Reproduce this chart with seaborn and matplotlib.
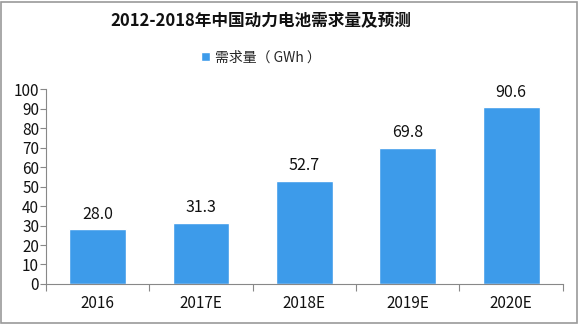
import matplotlib
matplotlib.use("Agg")
import matplotlib.pyplot as plt
from matplotlib.ticker import FixedLocator
import seaborn as sns
import pandas as pd

years = ["2016", "2017E", "2018E", "2019E", "2020E"]
demand = [28.0, 31.3, 52.7, 69.8, 90.6]
series_name = "需求量（ GWh ）"
title = "2012-2018年中国动力电池需求量及预测"

sns.set_theme(style="white")
plt.rcParams["font.family"] = ["Noto Sans CJK SC", "DejaVu Sans"]

df = pd.DataFrame({"year": years, "demand": demand})

fig = plt.figure(figsize=(5.79, 3.24), dpi=100)
ax = fig.add_axes([0.0795, 0.1235, 0.8925, 0.6015])

bar_color = "#3D9BEA"
sns.barplot(data=df, x="year", y="demand", color=bar_color, width=0.55,
            saturation=1, ax=ax, label=series_name)

for i, v in enumerate(demand):
    ax.text(i, v + 3.5, f"{v:.1f}", ha="center", va="bottom", fontsize=11.5, color="#111111")

ax.set_ylim(0, 100)
ax.set_xlim(-0.5, 4.5)
ax.set_yticks(range(0, 101, 10))
ax.set_xlabel("")
ax.set_ylabel("")
ax.tick_params(axis="y", labelsize=11, length=4, width=0.8, color="#888888",
               left=True, pad=1, labelcolor="#111111")
ax.tick_params(axis="x", which="major", length=0, labelsize=11, pad=8, labelcolor="#111111")
ax.xaxis.set_minor_locator(FixedLocator([-0.5, 0.5, 1.5, 2.5, 3.5, 4.5]))
ax.tick_params(axis="x", which="minor", bottom=True, length=5, width=0.8, color="#888888")

for side in ["top", "right"]:
    ax.spines[side].set_visible(False)
for side in ["left", "bottom"]:
    ax.spines[side].set_color("#888888")
    ax.spines[side].set_linewidth(0.8)

fig.text(0.451, 0.935, title, ha="center", va="center", fontsize=12, fontweight="bold", color="#111111")
leg = ax.legend(loc="center", bbox_to_anchor=(0.451, 0.822), bbox_transform=fig.transFigure,
                frameon=False, fontsize=10, handlelength=0.6, handleheight=0.6, handletextpad=0.4)

# thin frame around the whole figure
fig.patches.append(plt.Rectangle((0.002, 0.004), 0.994, 0.99, transform=fig.transFigure,
                                 fill=False, edgecolor="#9a9a9a", linewidth=1.2))

fig.savefig("out.png", dpi=100)
